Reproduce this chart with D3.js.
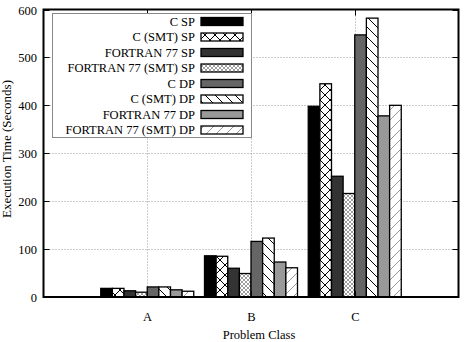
<!DOCTYPE html>
<html><head><meta charset="utf-8">
<script src="https://cdn.jsdelivr.net/npm/d3@7"></script>
<style>body{margin:0;background:#fff}svg{display:block}text{font-family:"Liberation Serif","Times New Roman",serif;fill:#000}</style>
</head><body><svg id="c" width="466" height="342"></svg>
<script>
const categories = ["A","B","C"];
const seriesNames = ["C SP","C (SMT) SP","FORTRAN 77 SP","FORTRAN 77 (SMT) SP","C DP","C (SMT) DP","FORTRAN 77 DP","FORTRAN 77 (SMT) DP"];
const cSP      = [18, 86, 398];
const cSmtSP   = [18, 85, 445];
const f77SP    = [13, 60, 252];
const f77SmtSP = [10, 49, 216];
const cDP      = [21, 116, 547];
const cSmtDP   = [21, 123, 582];
const f77DP    = [15, 73, 378];
const f77SmtDP = [12, 61, 400];
const yTicks = [0,100,200,300,400,500,600];
const seriesValues = [cSP,cSmtSP,f77SP,f77SmtSP,cDP,cSmtDP,f77DP,f77SmtDP];
const fills = ["#000","url(#xh)","#333","url(#fine)","#666","url(#bs)","#999","url(#fs)"];

const svg = d3.select("#c");
const L=43.5, R=458.5, T=9.5, B=297;
const x = d3.scaleLinear().domain([0,4]).range([L,R]);
const y = d3.scaleLinear().domain([0,600]).range([B,T]);
const inner = d3.scaleBand().domain(seriesNames).range([-46.5,46.5]);

const defs = svg.append("defs");
const p1 = defs.append("pattern").attr("id","xh").attr("patternUnits","userSpaceOnUse").attr("width",10).attr("height",10);
p1.append("rect").attr("width",10).attr("height",10).attr("fill","#fff");
p1.append("path").attr("d","M0,0L10,10M10,0L0,10").attr("stroke","#000").attr("stroke-width",1);
const p2 = defs.append("pattern").attr("id","fine").attr("patternUnits","userSpaceOnUse").attr("width",4).attr("height",4);
p2.append("rect").attr("width",4).attr("height",4).attr("fill","#fff");
p2.append("path").attr("d","M0,0L4,4M4,0L0,4").attr("stroke","#888").attr("stroke-width",0.8);
const p3 = defs.append("pattern").attr("id","bs").attr("patternUnits","userSpaceOnUse").attr("width",10).attr("height",10);
p3.append("rect").attr("width",10).attr("height",10).attr("fill","#fff");
p3.append("path").attr("d","M0,0L10,10M-5,5L5,15M5,-5L15,5").attr("stroke","#000").attr("stroke-width",1);
const p4 = defs.append("pattern").attr("id","fs").attr("patternUnits","userSpaceOnUse").attr("width",10).attr("height",10);
p4.append("rect").attr("width",10).attr("height",10).attr("fill","#fff");
p4.append("path").attr("d","M0,10L10,0M-5,5L5,-5M5,15L15,5").attr("stroke","#999").attr("stroke-width",1);

// grid
const g = svg.append("g");
yTicks.filter(t=>t>0&&t<600).forEach(t=>{
  g.append("line").attr("x1",L).attr("x2",R).attr("y1",Math.round(y(t))+0.5).attr("y2",Math.round(y(t))+0.5)
   .attr("stroke","#999").attr("stroke-dasharray","1,2");
});
categories.forEach((c,i)=>{
  g.append("line").attr("x1",Math.round(x(i+1))+0.5).attr("x2",Math.round(x(i+1))+0.5).attr("y1",T).attr("y2",B)
   .attr("stroke","#999").attr("stroke-dasharray","1,2");
});

// bars
seriesNames.forEach((s,si)=>{
  svg.append("g").selectAll("rect").data(seriesValues[si]).join("rect")
    .attr("x",(d,i)=>x(i+1)+inner(s))
    .attr("width",inner.bandwidth())
    .attr("y",d=>y(d))
    .attr("height",d=>B-y(d))
    .attr("fill",fills[si]).attr("stroke","#000").attr("stroke-width",1.3);
});

// ticks
yTicks.forEach(t=>{
  const yy=Math.round(y(t))+0.5;
  svg.append("line").attr("x1",L).attr("x2",L+6).attr("y1",yy).attr("y2",yy).attr("stroke","#000");
  svg.append("line").attr("x1",R).attr("x2",R-6).attr("y1",yy).attr("y2",yy).attr("stroke","#000");
  svg.append("text").attr("x",37).attr("y",yy+4.5).attr("text-anchor","end").attr("font-size",12.5).text(t);
});
categories.forEach((c,i)=>{
  const xx=Math.round(x(i+1))+0.5;
  svg.append("line").attr("x1",xx).attr("x2",xx).attr("y1",B).attr("y2",B-6).attr("stroke","#000");
  svg.append("line").attr("x1",xx).attr("x2",xx).attr("y1",T).attr("y2",T+6).attr("stroke","#000");
  svg.append("text").attr("x",xx).attr("y",321).attr("text-anchor","middle").attr("font-size",12.5).text(c);
});

// frame
svg.append("rect").attr("x",L).attr("y",T).attr("width",R-L).attr("height",B-T)
  .attr("fill","none").attr("stroke","#000").attr("stroke-width",2);

// axis titles
svg.append("text").attr("x",(L+R)/2+8).attr("y",339).attr("text-anchor","middle").attr("font-size",12.5).text("Problem Class");
svg.append("text").attr("transform","translate(11,149) rotate(-90)").attr("text-anchor","middle").attr("font-size",13).text("Execution Time (Seconds)");

// legend
const lg = svg.append("g");
lg.append("rect").attr("x",52.5).attr("y",13.5).attr("width",199).attr("height",124).attr("fill","#fff").attr("stroke","#888");
seriesNames.forEach((s,si)=>{
  const yy = 21 + si*15.5;
  lg.append("text").attr("x",195).attr("y",yy+4.5).attr("text-anchor","end").attr("font-size",12.5).text(s);
  lg.append("rect").attr("x",201).attr("y",yy-3.5).attr("width",42).attr("height",8)
    .attr("fill",fills[si]).attr("stroke","#000").attr("stroke-width",1.3);
});
</script></body></html>
